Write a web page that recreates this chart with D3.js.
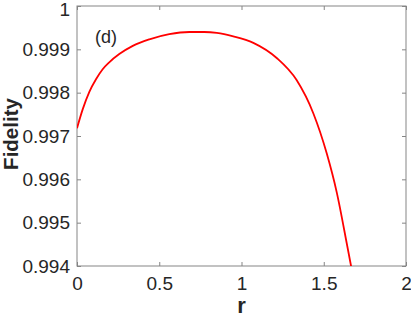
<!DOCTYPE html>
<html>
<head>
<meta charset="utf-8">
<script src="https://cdn.jsdelivr.net/npm/d3@7"></script>
<style>
  body { margin: 0; background: #fff; }
  text { font-family: "Liberation Sans", Arial, Helvetica, sans-serif; fill: #262626; }
</style>
</head>
<body>
<div id="chart"></div>
<script>
// data
const rValues = [0, 0.035, 0.075, 0.1155, 0.156, 0.196, 0.257, 0.339, 0.44, 0.561, 0.683, 0.774, 0.85, 0.95, 1.072, 1.214, 1.335, 1.437, 1.518, 1.579, 1.64, 1.666, 1.7];
const fidelity = [0.99718, 0.99762, 0.99802, 0.99831, 0.99854, 0.9987, 0.99889, 0.99908, 0.99923, 0.99935, 0.9994, 0.9994, 0.99938, 0.9993, 0.99915, 0.9988, 0.99829, 0.99752, 0.9966, 0.9957, 0.99452, 0.994, 0.9933];
const xTicks = [0, 0.5, 1, 1.5, 2];
const yTicks = [0.994, 0.995, 0.996, 0.997, 0.998, 0.999, 1];

const width = 411, height = 318;
const margin = { top: 6, right: 5, bottom: 52, left: 77 };
const w = width - margin.left - margin.right;
const h = height - margin.top - margin.bottom;

const svg = d3.select("#chart").append("svg")
    .attr("width", width)
    .attr("height", height);

const g = svg.append("g")
    .attr("transform", `translate(${margin.left},${margin.top})`);

const x = d3.scaleLinear().domain([0, 2]).range([0, w]);
const y = d3.scaleLinear().domain([0.994, 1]).range([h, 0]);

// clip
g.append("clipPath").attr("id", "clip")
    .append("rect").attr("width", w).attr("height", h);

const axisColor = "#858585";

function styleAxis(sel) {
    sel.select(".domain").remove();
    sel.selectAll(".tick line").attr("stroke", axisColor);
    sel.selectAll(".tick text").style("font-size", "19px").attr("fill", "#262626");
}

// bottom axis
g.append("g")
    .attr("transform", `translate(0,${h})`)
    .call(d3.axisBottom(x).tickValues(xTicks).tickSize(-4).tickPadding(11).tickFormat(d => String(d)))
    .call(styleAxis);

// top ticks
g.append("g")
    .call(d3.axisTop(x).tickValues(xTicks).tickSize(-4).tickFormat(""))
    .call(styleAxis);

// left axis
const yAxisG = g.append("g")
    .call(d3.axisLeft(y).tickValues(yTicks).tickSize(-4).tickPadding(7).tickFormat(d => String(+d.toFixed(3))))
    .call(styleAxis);
// top label sits a little lower so it is not cut
yAxisG.selectAll(".tick text").filter(d => d === 1).attr("dy", "0.5em");

// right ticks
g.append("g")
    .attr("transform", `translate(${w},0)`)
    .call(d3.axisRight(y).tickValues(yTicks).tickSize(-4).tickFormat(""))
    .call(styleAxis);

// box
g.append("rect")
    .attr("width", w).attr("height", h)
    .attr("fill", "none")
    .attr("stroke", axisColor)
    .attr("stroke-width", 1);

// curve
const pts = rValues.map((r, i) => [r, fidelity[i]]);
g.append("path")
    .datum(pts)
    .attr("clip-path", "url(#clip)")
    .attr("fill", "none")
    .attr("stroke", "#ff0000")
    .attr("stroke-width", 1.8)
    .attr("d", d3.line().x(d => x(d[0])).y(d => y(d[1])).curve(d3.curveMonotoneX));

// panel label
g.append("text")
    .attr("x", 18).attr("y", 37)
    .style("font-size", "18px")
    .text("(d)");

// axis labels
svg.append("text")
    .attr("x", margin.left + x(1)).attr("y", 313)
    .attr("text-anchor", "middle")
    .style("font-size", "22px").style("font-weight", "bold")
    .text("r");

svg.append("text")
    .attr("transform", `translate(18,${margin.top + h / 2 - 2}) rotate(-90)`)
    .attr("text-anchor", "middle")
    .style("font-size", "20.5px").style("font-weight", "bold")
    .text("Fidelity");
</script>
</body>
</html>
